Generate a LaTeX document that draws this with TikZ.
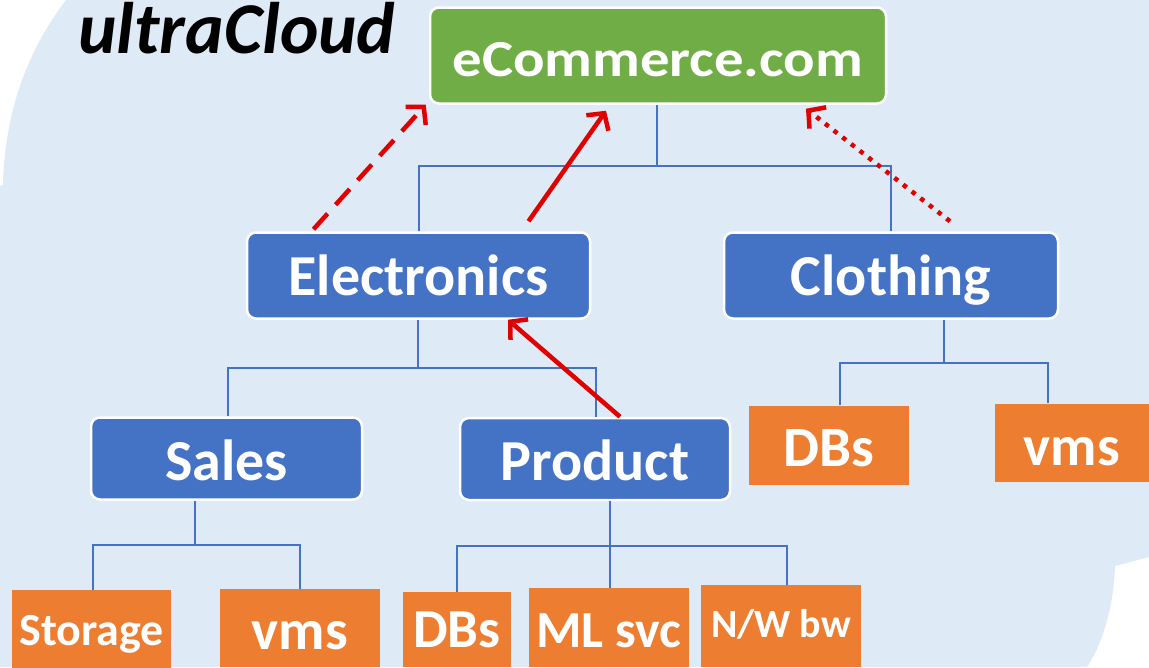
\documentclass[tikz,border=0pt]{standalone}
\usepackage{fontspec}
\setmainfont{Carlito}
\usetikzlibrary{arrows.meta,calc}
\definecolor{cloudbg}{HTML}{DEEAF6}
\definecolor{boxblue}{HTML}{4472C4}
\definecolor{boxgreen}{HTML}{70AD47}
\definecolor{boxorange}{HTML}{ED7D31}
\definecolor{arrowred}{HTML}{E00000}
\tikzset{
  unit box/.style={draw=white, line width=2.5pt, rounded corners=9pt,
    text=white, font=\bfseries\fontsize{58}{60}\selectfont,
    inner sep=0pt, text height=40pt, text depth=0pt},
  topbox/.style={unit box, fill=boxgreen},
  deptbox/.style={unit box, fill=boxblue},
  resbox/.style={fill=boxorange, text=white, inner sep=0pt,
    font=\bfseries\fontsize{57}{60}\selectfont, text height=42pt, text depth=0pt},
  tree/.style={draw=boxblue, line width=2pt},
  link/.style={draw=arrowred, line width=4.5pt,
    -{Straight Barb[length=12pt,width=27pt,line width=4.5pt]}},
}
\begin{document}
\begin{tikzpicture}[x=1pt,y=-1pt]
% cloud backdrop
\fill[white] (0,0) rectangle (1149,667);
\fill[cloudbg] (66,0) -- (1149,0) -- (1149,557) -- (1115,566)
  .. controls (1114,600) and (1105,640) .. (1087,667) -- (0,667) -- (0,186)
  -- (3,185) .. controls (5,110) and (28,50) .. (66,0) -- cycle;
\useasboundingbox (0,0) rectangle (1149,667);

% title
\node[anchor=base west, inner sep=0pt, font=\bfseries\itshape\fontsize{73}{75}\selectfont]
  (title) at (78,53) {ultraCloud};

% hierarchy boxes
\node[topbox, minimum width=456pt, minimum height=96pt, text height=42pt,
  font=\bfseries\fontsize{52}{54}\selectfont] (ecom) at (658,55.5)
  {\scalebox{1.13}[1]{eCommerce.com}};
\node[deptbox, minimum width=343pt, minimum height=86pt] (elec) at (418.5,275.5) {Electronics};
\node[deptbox, minimum width=334pt, minimum height=86pt] (cloth) at (891,275.5) {Clothing};
\node[deptbox, minimum width=271pt, minimum height=82pt, text height=43pt] (sales) at (226.5,458.5) {Sales};
\node[deptbox, minimum width=270pt, minimum height=82pt, text height=43pt] (prod) at (595,459) {Product};

% resource boxes
\node[resbox, minimum width=160pt, minimum height=79pt] (cdb) at (829,445) {DBs};
\node[resbox, minimum width=154pt, minimum height=78pt, text height=45pt] (cvms) at (1072,442.5) {vms};
\node[resbox, minimum width=159pt, minimum height=78pt, text height=33pt,
  font=\bfseries\fontsize{46}{48}\selectfont] (stor) at (91.5,629) {Storage};
\node[resbox, minimum width=160pt, minimum height=78pt] (svms) at (300,628) {vms};
\node[resbox, minimum width=108pt, minimum height=75pt, text height=35pt,
  font=\bfseries\fontsize{55}{57}\selectfont] (pdb) at (457,629.5) {DBs};
\node[resbox, minimum width=160pt, minimum height=79pt, text height=39pt,
  font=\bfseries\fontsize{52}{54}\selectfont] (ml) at (609,627.5) {ML svc};
\node[resbox, minimum width=160pt, minimum height=82pt, text height=22pt,
  font=\bfseries\fontsize{40}{42}\selectfont] (nw) at (781,626) {N/W bw};

% tree connectors
\coordinate (j1) at (657,166);
\draw[tree] (ecom.south -| j1) -- (j1);
\draw[tree] (elec.north) |- (j1) -| (cloth.north);
\coordinate (j2) at (418,368);
\draw[tree] (elec.south -| j2) -- (j2);
\draw[tree] ([xshift=1.5pt]sales.north) |- (j2) -| ([xshift=1pt]prod.north);
\coordinate (j3) at (944,363);
\draw[tree] (cloth.south -| j3) -- (j3);
\draw[tree] ([xshift=11pt]cdb.north) |- (j3) -| ([xshift=-24pt]cvms.north);
\coordinate (j4) at (195,545);
\draw[tree] (sales.south -| j4) -- (j4);
\draw[tree] ([xshift=1.5pt]stor.north) |- (j4) -| (svms.north);
\coordinate (j5) at (610,546);
\draw[tree] (prod.south -| j5) -- (j5);
\draw[tree] (pdb.north) |- (j5) -| ([xshift=6pt]nw.north);
\draw[tree] ([xshift=1pt]ml.north) -- (j5);

% red links
\draw[link, dash pattern=on 21pt off 12pt] ($(elec.north)+(-105,-2)$) -- ($(ecom.south west)+(-3,0)$);
\draw[link] ($(elec.north)+(110,-10)$) -- ($(ecom.south)+(-52,6)$);
\draw[link, dash pattern=on 4.5pt off 6.5pt] ($(cloth.north)+(59,-10)$) -- ($(ecom.south)+(148,4)$);
\draw[link] ($(prod.north)+(25,0)$) -- ($(elec.south)+(89.5,0)$);
\end{tikzpicture}
\end{document}
